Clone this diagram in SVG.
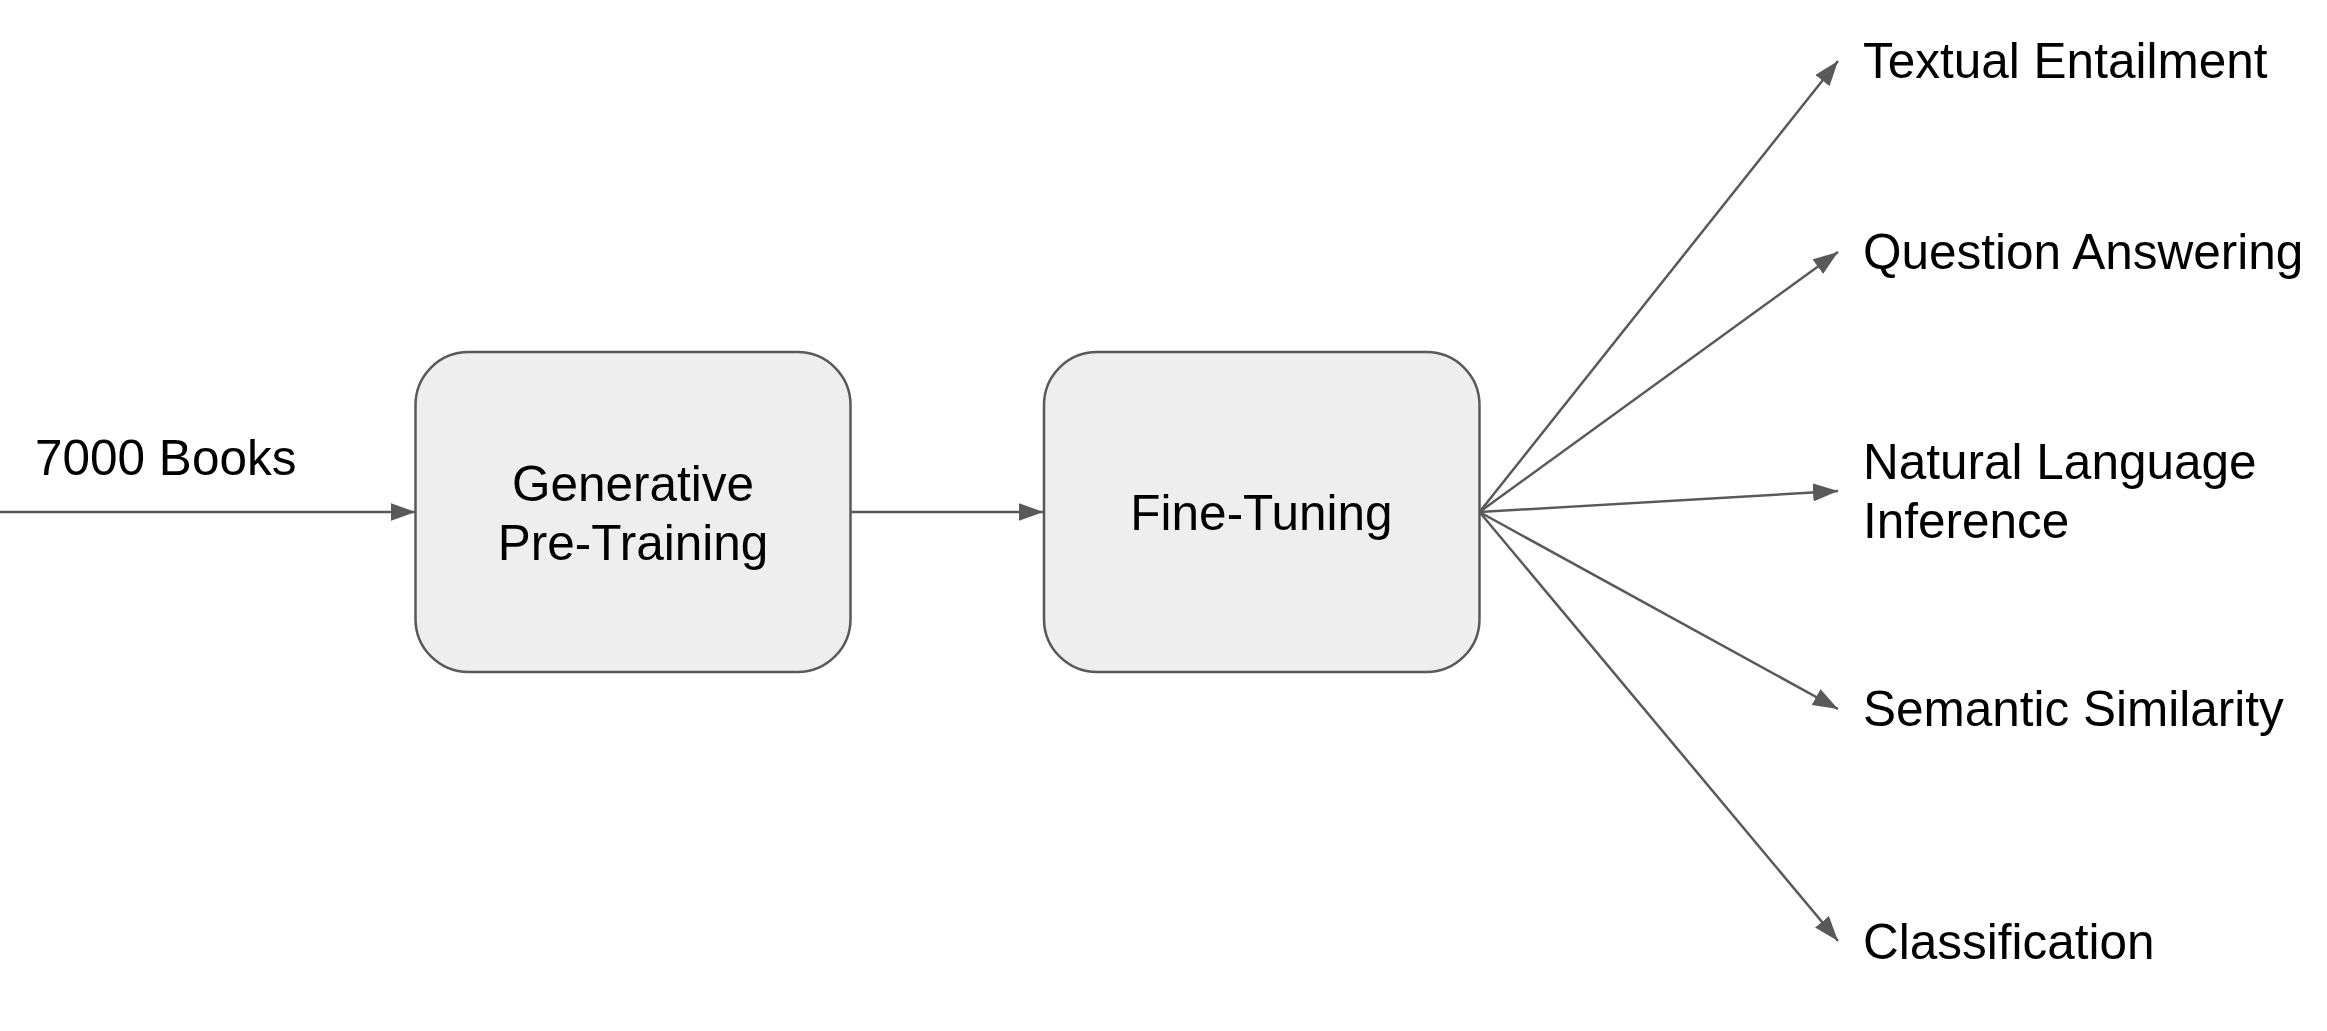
<svg xmlns="http://www.w3.org/2000/svg" width="2327" height="1031" viewBox="0 0 2327 1031">
<style>
.box{fill:#eeeeee;stroke:#595959;stroke-width:2.5}
.conn{stroke:#595959;stroke-width:2.5;fill:none}
text{font-family:"Liberation Sans",Arial,sans-serif;font-size:49.5px;fill:#000}
.c{text-anchor:middle}
</style>
<defs>
<marker id="ah" markerUnits="userSpaceOnUse" markerWidth="26" markerHeight="18" refX="25" refY="9" orient="auto">
<path d="M0,0 L25,9 L0,18 z" fill="#595959"/>
</marker>
</defs>
<rect width="2327" height="1031" fill="#ffffff"/>
<g id="connectors">
<line class="conn" x1="0" y1="512" x2="415.5" y2="512" marker-end="url(#ah)"/>
<line class="conn" x1="850.5" y1="512" x2="1043.5" y2="512" marker-end="url(#ah)"/>
<line class="conn" x1="1479.5" y1="512" x2="1838" y2="61" marker-end="url(#ah)"/>
<line class="conn" x1="1479.5" y1="512" x2="1838" y2="252" marker-end="url(#ah)"/>
<line class="conn" x1="1479.5" y1="512" x2="1838" y2="491" marker-end="url(#ah)"/>
<line class="conn" x1="1479.5" y1="512" x2="1838" y2="709" marker-end="url(#ah)"/>
<line class="conn" x1="1479.5" y1="512" x2="1838" y2="941" marker-end="url(#ah)"/>
</g>
<g id="books-label"><text x="35" y="475">7000 Books</text></g>
<g id="pretraining">
<rect class="box" x="415.5" y="352" width="435" height="320" rx="53" ry="53"/>
<text class="c" x="633" y="501">Generative</text>
<text class="c" x="633" y="560">Pre-Training</text>
</g>
<g id="finetuning">
<rect class="box" x="1044" y="352" width="435.5" height="320" rx="53" ry="53"/>
<text class="c" x="1261.5" y="530">Fine-Tuning</text>
</g>
<g id="task-entailment"><text x="1863" y="78">Textual Entailment</text></g>
<g id="task-qa"><text x="1863" y="269">Question Answering</text></g>
<g id="task-nli"><text x="1863" y="479">Natural Language</text><text x="1863" y="538">Inference</text></g>
<g id="task-similarity"><text x="1863" y="726">Semantic Similarity</text></g>
<g id="task-classification"><text x="1863" y="959">Classification</text></g>
</svg>
